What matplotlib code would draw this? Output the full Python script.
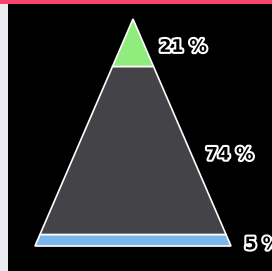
import matplotlib
matplotlib.use("Agg")
import matplotlib.pyplot as plt
import matplotlib.patheffects as pe
from matplotlib.patches import Polygon, Rectangle

# pyramid segments, top to bottom
labels = ["21 %", "74 %", "5 %"]
values = [21, 74, 5]
colors = ["#90ed7d", "#434348", "#7cb5ec"]

W, H = 272, 271
fig = plt.figure(figsize=(W / 100, H / 100), dpi=100)
ax = fig.add_axes([0, 0, 1, 1])
ax.set_xlim(0, W)
ax.set_ylim(H, 0)
ax.axis("off")

# page background: pink top strip, gray left strip, black plot area
ax.add_patch(Rectangle((0, 0), W, 4, color="#f4456a", lw=0))
ax.add_patch(Rectangle((0, 4), 8, H - 4, color="#ebecef", lw=0))
ax.add_patch(Rectangle((8, 4), W - 8, H - 4, color="black", lw=0))

# pyramid geometry
apex_x, apex_y = 133, 19
base_y = 246
half_base = 98
height = base_y - apex_y
total = sum(values)


def half_width(y):
    return (y - apex_y) / height * half_base


top = apex_y
for lab, v, c in zip(labels, values, colors):
    bot = top + v / total * height
    pts = [(apex_x - half_width(top), top), (apex_x + half_width(top), top),
           (apex_x + half_width(bot), bot), (apex_x - half_width(bot), bot)]
    ax.add_patch(Polygon(pts, closed=True, facecolor=c, edgecolor="white",
                         lw=1.2, joinstyle="miter"))
    mid = (top + bot) / 2
    t = ax.text(apex_x + half_width(mid) + 16, mid + 4, lab, color="black",
                fontsize=12.5, fontweight="bold", ha="left", va="center")
    t.set_path_effects([pe.Stroke(linewidth=3, foreground="white"), pe.Normal()])
    top = bot

fig.savefig("out.png", dpi=100)
